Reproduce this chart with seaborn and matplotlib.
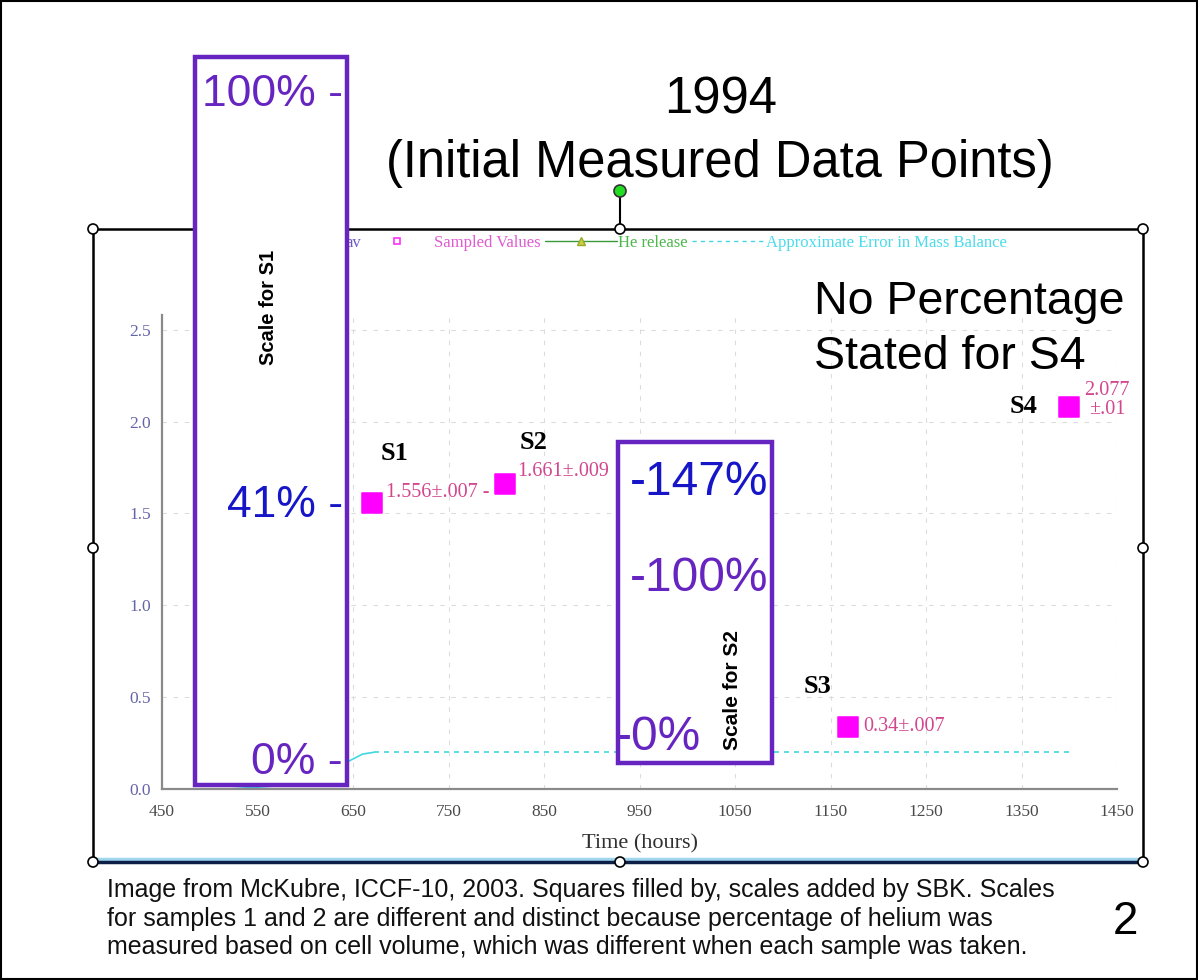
import numpy as np
import pandas as pd
import matplotlib
matplotlib.use("Agg")
import matplotlib.pyplot as plt
import seaborn as sns
from matplotlib.patches import Rectangle, Circle
from matplotlib.lines import Line2D

# ---------------- data ----------------
sample_names = ["S1", "S2", "S3", "S4"]
sample_hours = [670, 809, 1168, 1400]
sample_values = [1.556, 1.661, 0.34, 2.077]
sample_labels = ["1.556\u00b1.007 -", "1.661\u00b1.009", "0.34\u00b1.007", "2.077\n\u00b1.01"]

error_rise_hours = [450, 520, 580, 620, 645, 660, 672]
error_rise_values = [0.0, 0.0, 0.02, 0.08, 0.15, 0.19, 0.20]
error_flat_hours = [672, 1400]
error_flat_values = [0.20, 0.20]

x_ticks = [450, 550, 650, 750, 850, 950, 1050, 1150, 1250, 1350, 1450]
y_ticks = [0.0, 0.5, 1.0, 1.5, 2.0, 2.5]
y_tick_labels = ["0.0", "0.5", "1.0", "1.5", "2.0", "2.5"]

legend_labels = ["Sampled Values", "He release", "Approximate Error in Mass Balance"]

scale1_labels = ["100% -", "41% -", "0% -"]
scale2_labels = ["-147%", "-100%", "-0%"]

# ---------------- figure ----------------
sns.set_theme(style="white")
plt.rcParams["font.family"] = ["Liberation Sans", "DejaVu Sans"]

W, H = 1198, 980
fig = plt.figure(figsize=(W / 100, H / 100), dpi=100)
fig.patch.set_facecolor("white")

def fx(px):
    return px / W

def fy(py):
    return 1 - py / H

ax = fig.add_axes([fx(162), fy(789), (1117 - 162) / W, (789 - 315) / H])
ax.set_facecolor("white")

df = pd.DataFrame({"hours": sample_hours, "value": sample_values, "name": sample_names})
rise = pd.DataFrame({"hours": error_rise_hours, "value": error_rise_values})
flat = pd.DataFrame({"hours": error_flat_hours, "value": error_flat_values})

cyan = "#3fd8e0"
sns.lineplot(data=rise, x="hours", y="value", color=cyan, lw=1.2, ax=ax, zorder=2)
sns.lineplot(data=flat, x="hours", y="value", color=cyan, lw=1.2, ax=ax,
             linestyle=(0, (3, 3)), zorder=2)
sns.scatterplot(data=df, x="hours", y="value", marker="s", s=190, color="#ff00ff",
                edgecolor="#ff00ff", ax=ax, zorder=4)

ax.set_xlim(450, 1450)
ax.set_ylim(0, 2.58)
ax.set_xticks(x_ticks)
ax.set_yticks(y_ticks)
ax.set_yticklabels(y_tick_labels)
ax.set_xlabel("Time (hours)", family="Liberation Serif", fontsize=16, color="#303030", labelpad=10)
ax.set_ylabel("")
ax.grid(True, color="#dcdcdc", linestyle=(0, (4, 6)), lw=0.8)
for s in ["top", "right"]:
    ax.spines[s].set_visible(False)
for s in ["left", "bottom"]:
    ax.spines[s].set_color("#8a8a8a")
    ax.spines[s].set_linewidth(1.6)
ax.tick_params(axis="y", colors="#8a8a8a", labelcolor="#6464a8", length=5, width=1,
               direction="out", labelsize=12.5, pad=3)
ax.tick_params(axis="x", colors="#8a8a8a", labelcolor="#4a4a4a", length=8, width=1,
               direction="inout", labelsize=12.5, pad=7)
for lab in ax.get_xticklabels() + ax.get_yticklabels():
    lab.set_family("Liberation Serif")

# sample labels (offsets in points relative to the data squares)
name_offsets = [(16, 36), (21, 30), (-22, 29), (-33, 1)]
value_offsets = [(10, 8), (9, 9), (11, 0), (11, 5)]
pink = "#d2468e"
for i in range(len(sample_names)):
    ax.annotate(sample_names[i], (sample_hours[i], sample_values[i]),
                xytext=name_offsets[i], textcoords="offset points",
                ha="center", va="center", fontsize=19, fontweight="bold",
                family="Liberation Serif", color="black", zorder=5)
    ax.annotate(sample_labels[i], (sample_hours[i], sample_values[i]),
                xytext=value_offsets[i], textcoords="offset points",
                ha="left", va="center", fontsize=14.5, family="Liberation Serif",
                color=pink, multialignment="center", linespacing=1.0, zorder=5)

# legend across the top of the chart
h1 = Line2D([], [], ls="none", marker="s", mfc="white", mec="#ff30ff", ms=5, mew=1.2)
h2 = Line2D([], [], color="#3a9a3a", lw=1, marker="^", mfc="#c8d040", mec="#9aaa30", ms=6)
h3 = Line2D([], [], color=cyan, lw=1, ls=(0, (3, 3)))
ax.legend(handles=[h1, h2, h3], labels=legend_labels, loc="center left",
          bbox_to_anchor=(fx(361), fy(243)), bbox_transform=fig.transFigure,
          ncol=3, frameon=False, handlelength=4.3, handletextpad=0.1,
          columnspacing=0.25, borderpad=0, borderaxespad=0,
          prop={"family": "Liberation Serif", "size": 12},
          labelcolor=["#e05ad0", "#4cb84c", "#4adcec"])
fig.text(fx(345), fy(243), "av", family="Liberation Serif", fontsize=12,
         color="#6a5ac8", va="center", ha="left")

# ---------------- overlay (pixel coordinates) ----------------
ov = fig.add_axes([0, 0, 1, 1], zorder=10)
ov.set_xlim(0, W)
ov.set_ylim(H, 0)
ov.axis("off")
ov.patch.set_alpha(0)

# outer border
ov.add_patch(Rectangle((1, 1), W - 2, H - 2, fill=False, ec="black", lw=1.5))

# chart selection frame
ov.add_patch(Rectangle((93, 229), 1050, 633, fill=False, ec="black", lw=1.8))
ov.plot([93, 1143], [859, 859], color="#9fd6ee", lw=2.5, solid_capstyle="butt")
ov.plot([93, 1143], [862, 862], color="#0d1f46", lw=2.5, solid_capstyle="butt")
ov.plot([620, 620], [197, 229], color="black", lw=1.5)
for (cx, cy) in [(93, 229), (620, 229), (1143, 229), (93, 548), (1143, 548),
                 (93, 862), (620, 862), (1143, 862)]:
    ov.add_patch(Circle((cx, cy), 5, fc="white", ec="black", lw=1.2, zorder=12))
ov.add_patch(Circle((620, 191), 6, fc="#22dd22", ec="#333333", lw=1.2, zorder=12))

# title
ov.text(721, 100, "1994", ha="center", va="center", fontsize=36.5, color="black")
ov.text(720, 163, "(Initial Measured Data Points)", ha="center", va="center",
        fontsize=36.5, color="black")

# no percentage note
ov.text(814, 302, "No Percentage", ha="left", va="center", fontsize=33.5, color="black")
ov.text(814, 357, "Stated for S4", ha="left", va="center", fontsize=33.5, color="black")

purple = "#6624c0"
blue = "#1616c8"

# scale box 1
ov.add_patch(Rectangle((195, 57), 152, 728, fc="white", ec=purple, lw=3.2, zorder=11))
ov.text(343, 95, scale1_labels[0], ha="right", va="center", fontsize=32, color=purple, zorder=13)
ov.text(343, 505, scale1_labels[1], ha="right", va="center", fontsize=32, color=blue, zorder=13)
ov.text(343, 762, scale1_labels[2], ha="right", va="center", fontsize=32, color=purple, zorder=13)
ov.text(268, 307, "Scale for S1", rotation=90, ha="center", va="center",
        fontsize=14.5, fontweight="bold", color="black", zorder=13)

# scale box 2
ov.add_patch(Rectangle((618, 442), 154, 321, fc="white", ec=purple, lw=3.2, zorder=11))
ov.text(630, 482, scale2_labels[0], ha="left", va="center", fontsize=34.5, color=blue, zorder=13)
ov.text(630, 578, scale2_labels[1], ha="left", va="center", fontsize=34.5, color=purple, zorder=13)
ov.text(616, 737, scale2_labels[2], ha="left", va="center", fontsize=34.5, color=purple, zorder=13)
ov.text(733, 690, "Scale for S2", rotation=90, ha="center", va="center",
        fontsize=15, fontweight="bold", color="black", zorder=13)

# caption
caption = ["Image from McKubre, ICCF-10, 2003. Squares filled by, scales added by SBK. Scales",
           "for samples 1 and 2 are different and distinct because percentage of helium was",
           "measured based on cell volume, which was different when each sample was taken."]
for i, line in enumerate(caption):
    ov.text(107, 890 + i * 28.5, line, ha="left", va="center", fontsize=18, color="#111111")
ov.text(1125, 922, "2", ha="center", va="center", fontsize=33, color="black")

fig.savefig("out.png", dpi=100, facecolor="white")
